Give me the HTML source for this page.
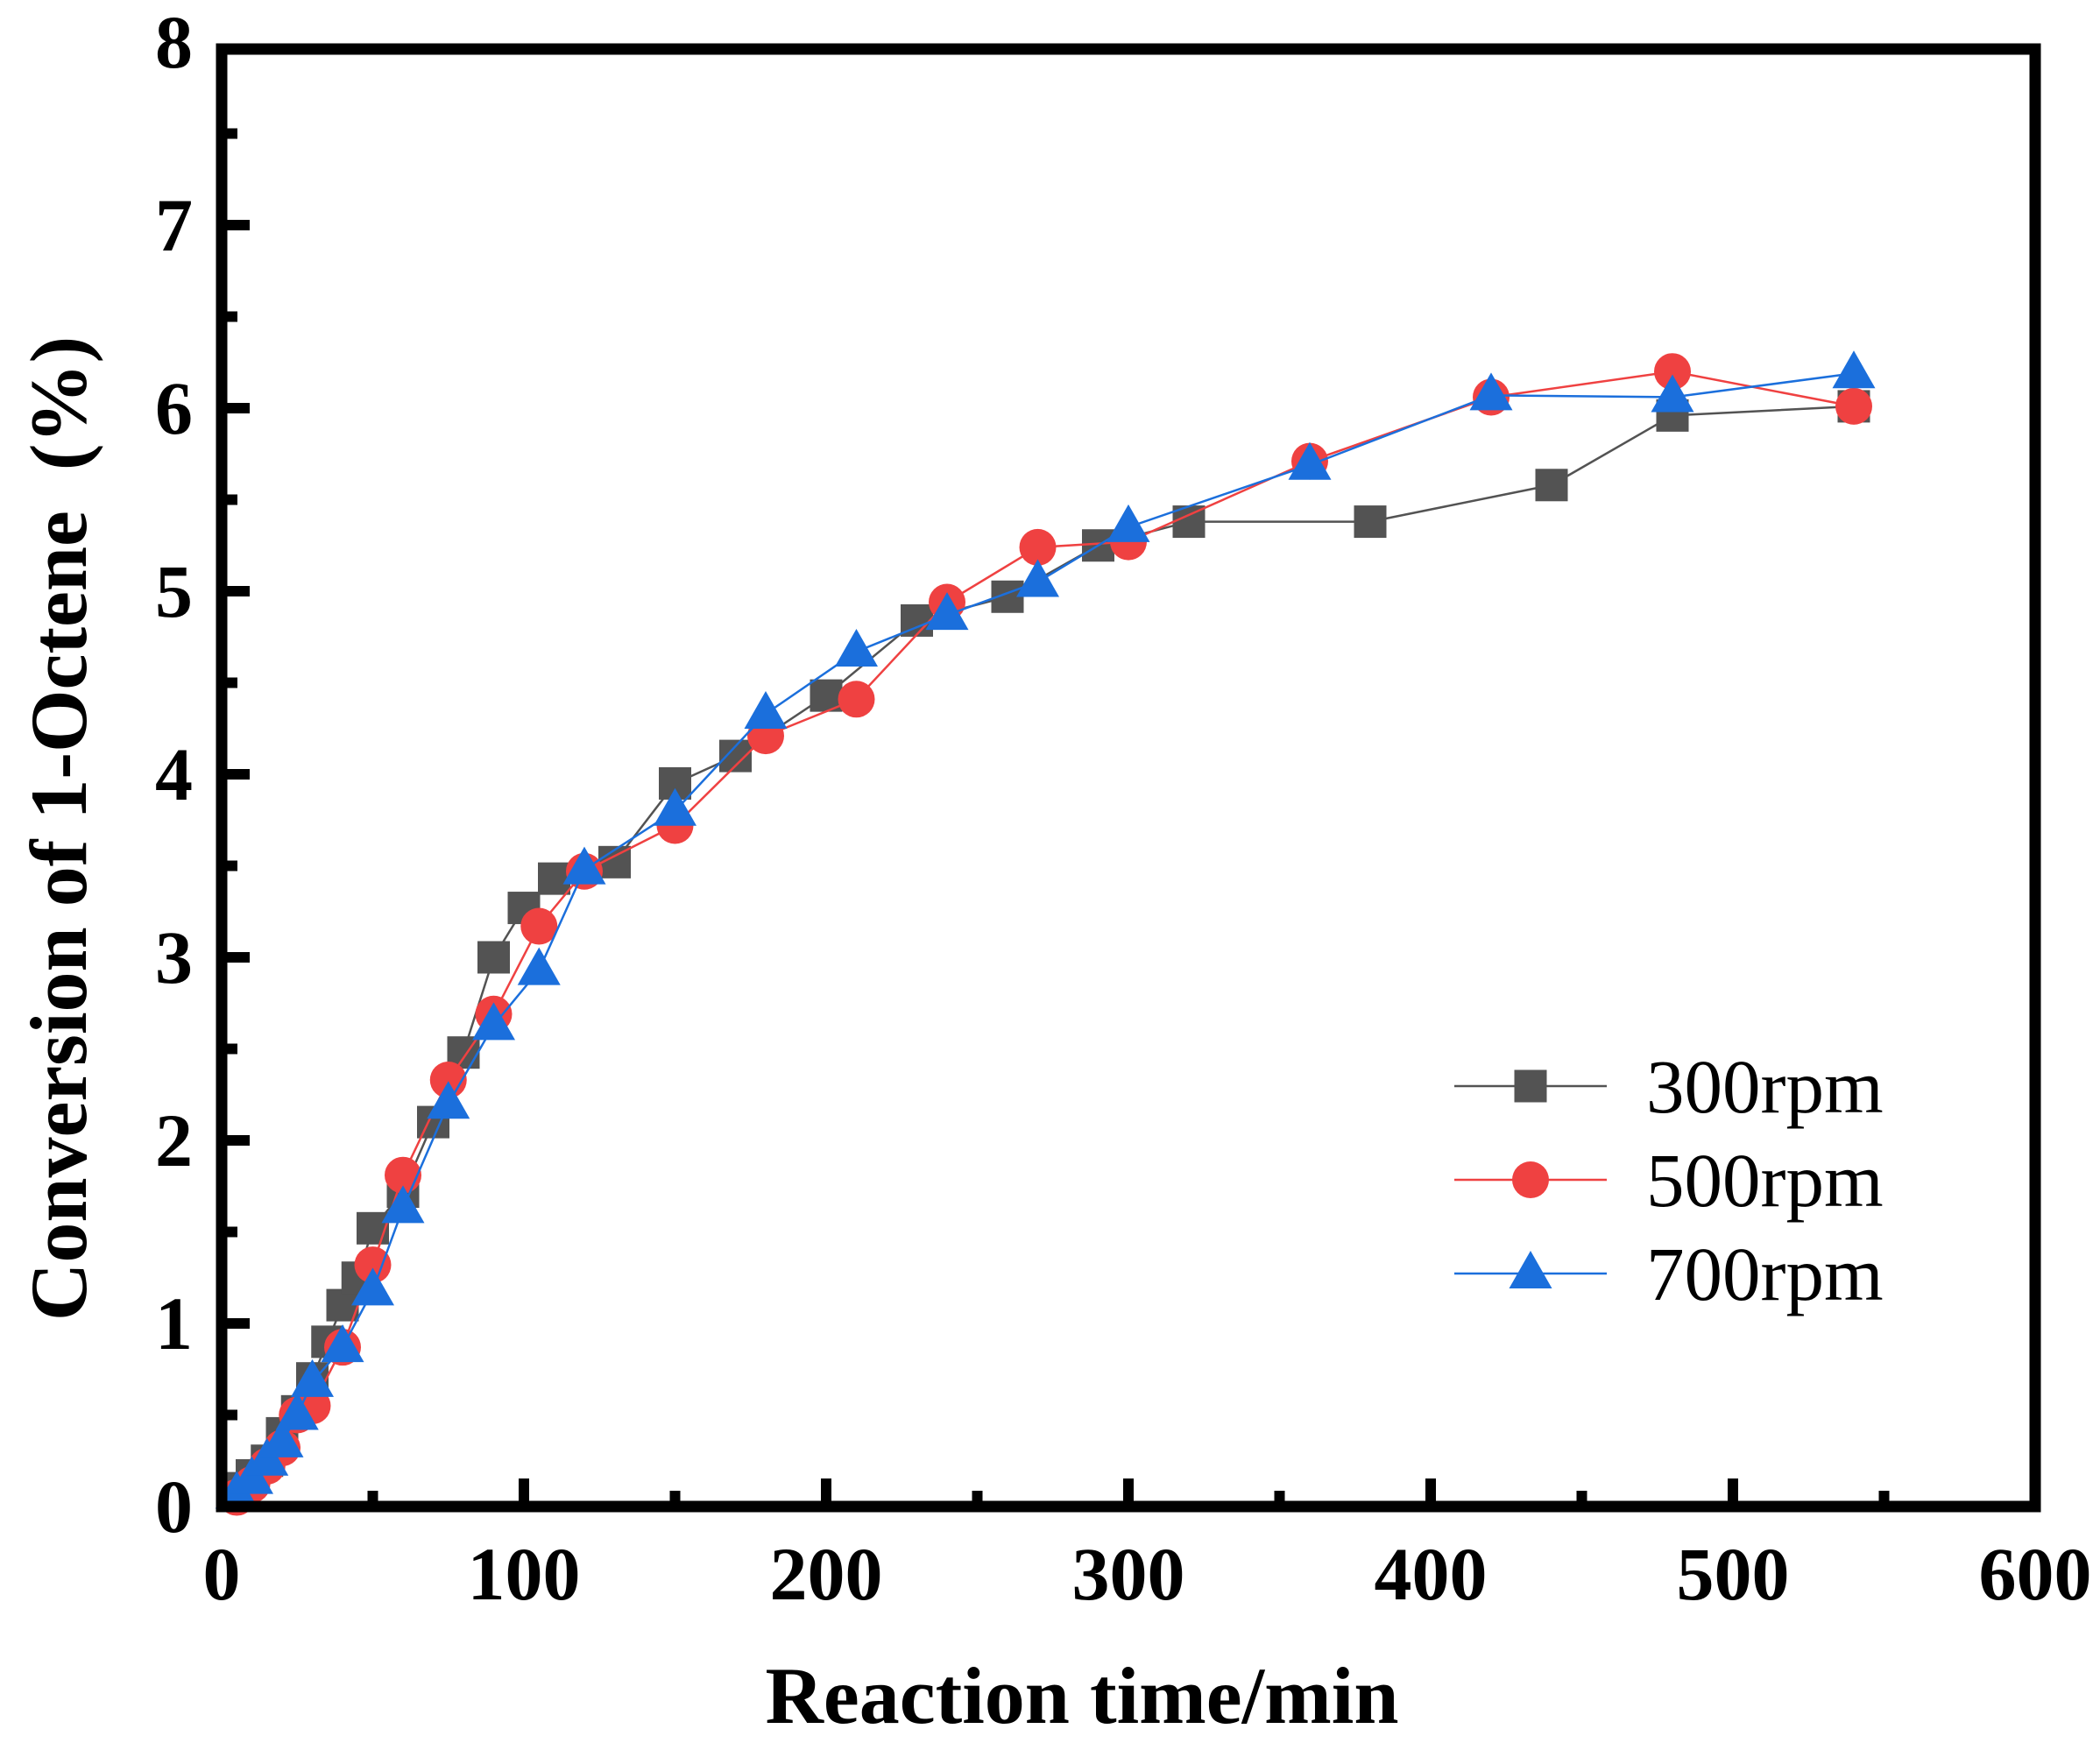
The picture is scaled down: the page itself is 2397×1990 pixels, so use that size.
<!DOCTYPE html>
<html><head><meta charset="utf-8"><style>
html,body{margin:0;padding:0;background:#fff;}
svg{display:block;}
</style></head><body>
<svg id="s" width="2397" height="1990" xmlns="http://www.w3.org/2000/svg" font-family="Liberation Serif, serif"></svg>
<script>
const s=document.getElementById('s');
const X0=253,XS=3.45,Y0=1720,YS=209;
const px=x=>X0+x*XS, py=y=>Y0-y*YS;
let h='';
const d300=[[5,0.1],[10,0.17],[15,0.25],[20,0.4],[25,0.52],[30,0.7],[35,0.9],[40,1.1],[45,1.25],[50,1.52],[60,1.72],[70,2.1],[80,2.48],[90,3.0],[100,3.27],[110,3.43],[130,3.52],[150,3.95],[170,4.1],[200,4.43],[230,4.84],[260,4.97],[290,5.25],[320,5.38],[380,5.38],[440,5.58],[480,5.96],[540,6.01]];
const d500=[[5,0.05],[10,0.12],[15,0.22],[20,0.32],[25,0.5],[30,0.55],[40,0.87],[50,1.32],[60,1.81],[75,2.33],[90,2.69],[105,3.17],[120,3.47],[150,3.72],[180,4.21],[210,4.41],[240,4.94],[270,5.24],[300,5.27],[360,5.71],[420,6.06],[480,6.2],[540,6.01]];
const d700=[[5,0.07],[10,0.15],[15,0.25],[20,0.35],[25,0.5],[30,0.68],[40,0.87],[50,1.18],[60,1.63],[75,2.2],[90,2.63],[105,2.93],[120,3.48],[150,3.8],[180,4.33],[210,4.67],[240,4.87],[270,5.05],[300,5.35],[360,5.69],[420,6.07],[480,6.06],[540,6.19]];
const C1='#535353',C2='#ef4141',C3='#1b6fdc';
function sq(x,y,c){return `<rect x="${x-18.5}" y="${y-18.5}" width="37" height="37" fill="${c}"/>`;}
function ci(x,y,c){return `<circle cx="${x}" cy="${y}" r="21" fill="${c}"/>`;}
function tr(x,y,c){return `<polygon points="${x},${y-26} ${x-24.5},${y+17} ${x+24.5},${y+17}" fill="${c}"/>`;}
function series(d,c,m){
  h+=`<polyline fill="none" stroke="${c}" stroke-width="2.5" points="${d.map(p=>px(p[0])+','+py(p[1])).join(' ')}"/>`;
  d.forEach(p=>h+=m(px(p[0]),py(p[1]),c));
}
series(d300,C1,sq);series(d500,C2,ci);series(d700,C3,tr);
h+=`<rect x="${X0}" y="56" width="${2323-X0}" height="${Y0-56}" fill="none" stroke="#000" stroke-width="13"/>`;
for(let i=0;i<=12;i++){const x=px(i*50);const L=i%2?12:26;if(i>0&&i<12)h+=`<line x1="${x}" x2="${x}" y1="${Y0}" y2="${Y0-L-6}" stroke="#000" stroke-width="12"/>`;}
for(let i=0;i<=16;i++){const y=py(i*0.5);const L=i%2?12:26;if(i>0&&i<16)h+=`<line x1="${X0}" x2="${X0+L+6}" y1="${y}" y2="${y}" stroke="#000" stroke-width="12"/>`;}
for(let i=0;i<=6;i++)h+=`<text x="${px(i*100)}" y="1826" font-size="86" font-weight="bold" text-anchor="middle">${i*100}</text>`;
for(let i=0;i<=8;i++)h+=`<text x="220" y="${py(i)+29}" font-size="86" font-weight="bold" text-anchor="end">${i}</text>`;
h+=`<text x="1235" y="1967" font-size="92" font-weight="bold" text-anchor="middle">Reaction time/min</text>`;
h+=`<text transform="translate(98,946) rotate(-90)" font-size="92" font-weight="bold" text-anchor="middle" xml:space="preserve">Conversion of 1-Octene  (%)</text>`;
const L=[[1240,C1,sq,'300rpm'],[1347,C2,ci,'500rpm'],[1454,C3,tr,'700rpm']];
L.forEach(([y,c,m,t])=>{h+=`<line x1="1660" x2="1834" y1="${y}" y2="${y}" stroke="${c}" stroke-width="2.5"/>`+m(1747,y,c)+`<text x="1879" y="${y+30}" font-size="87">${t}</text>`;});
s.innerHTML=h;
</script>
</body></html>
